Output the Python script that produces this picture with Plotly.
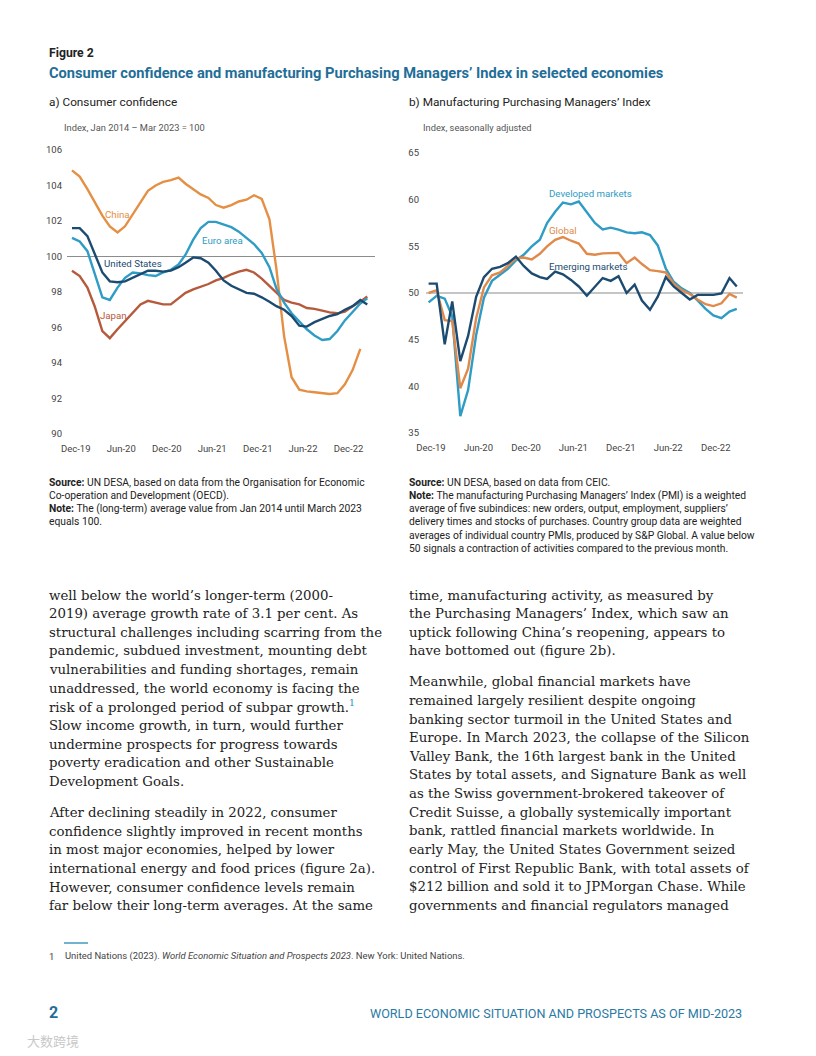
import plotly.graph_objects as go

# the page body adds an 8 px margin; the figure is drawn 8 px smaller and
# all page coordinates below are expressed in the photographed page's pixels
OFF = 8
W, H = 816 - OFF, 1056 - OFF

# ---------------- data ----------------
months = ["2019-12-01", "2020-01-01", "2020-02-01", "2020-03-01", "2020-04-01", "2020-05-01",
          "2020-06-01", "2020-07-01", "2020-08-01", "2020-09-01", "2020-10-01", "2020-11-01",
          "2020-12-01", "2021-01-01", "2021-02-01", "2021-03-01", "2021-04-01", "2021-05-01",
          "2021-06-01", "2021-07-01", "2021-08-01", "2021-09-01", "2021-10-01", "2021-11-01",
          "2021-12-01", "2022-01-01", "2022-02-01", "2022-03-01", "2022-04-01", "2022-05-01",
          "2022-06-01", "2022-07-01", "2022-08-01", "2022-09-01", "2022-10-01", "2022-11-01",
          "2022-12-01", "2023-01-01", "2023-02-01", "2023-03-01"]

china = [104.85, 104.5, 103.8, 103.1, 102.3, 101.7, 101.35, 101.7, 102.4, 103.05,
         103.7, 104.0, 104.2, 104.3, 104.45, 104.1, 103.8, 103.5, 103.3, 102.9,
         102.75, 102.9, 103.1, 103.2, 103.45, 103.25, 102.1, 99.3, 95.5, 93.2,
         92.5, 92.4, 92.35, 92.3, 92.25, 92.3, 92.8, 93.6, 94.8]
euro_area = [101.05, 100.85, 100.3, 99.1, 97.7, 97.55, 98.25, 98.8, 99.1, 99.05,
             98.95, 98.9, 99.1, 99.25, 99.55, 100.1, 100.95, 101.6, 101.95, 101.95,
             101.8, 101.65, 101.4, 101.05, 100.7, 100.2, 99.4, 98.2, 97.4, 96.8,
             96.35, 95.9, 95.55, 95.3, 95.35, 95.8, 96.4, 96.9, 97.35, 97.65]
united_states = [101.6, 101.6, 101.15, 100.2, 99.1, 98.6, 98.55, 98.6, 98.8, 99.0,
                 99.2, 99.2, 99.15, 99.2, 99.4, 99.65, 99.95, 99.9, 99.65, 99.2,
                 98.65, 98.35, 98.15, 97.95, 97.9, 97.7, 97.45, 97.2, 97.0, 96.65,
                 96.1, 96.05, 96.3, 96.5, 96.65, 96.75, 97.0, 97.2, 97.55, 97.3]
japan = [99.2, 98.9, 98.25, 97.2, 95.8, 95.4, 95.9, 96.35, 96.8, 97.3,
         97.5, 97.4, 97.3, 97.3, 97.65, 97.95, 98.15, 98.3, 98.45, 98.65,
         98.8, 99.0, 99.15, 99.25, 99.1, 98.75, 98.35, 97.95, 97.55, 97.4,
         97.3, 97.1, 97.05, 96.95, 96.85, 96.8, 96.9, 97.2, 97.45, 97.75]

developed = [49.0, 49.7, 49.4, 47.5, 36.8, 39.6, 45.5, 49.5, 51.3, 52.0,
             52.6, 53.5, 54.1, 55.0, 55.7, 57.5, 58.7, 59.7, 59.5, 59.8,
             58.7, 57.5, 56.8, 57.0, 56.8, 56.5, 56.4, 56.5, 56.2, 55.1,
             52.6, 51.2, 50.5, 50.0, 49.2, 48.3, 47.6, 47.3, 48.0, 48.3]
global_pmi = [50.0, 50.3, 47.1, 47.0, 39.8, 41.9, 47.3, 50.6, 51.9, 52.2,
              52.9, 53.7, 53.8, 53.6, 54.2, 55.0, 55.7, 56.0, 55.6, 55.3,
              54.2, 54.1, 54.25, 54.25, 54.3, 53.2, 53.8, 53.1, 52.45, 52.35,
              52.2, 51.0, 50.3, 49.9, 49.3, 48.8, 48.6, 48.9, 49.9, 49.5]
emerging = [51.0, 51.0, 44.5, 49.1, 42.7, 45.4, 49.6, 51.7, 52.6, 52.8,
            53.2, 53.9, 52.9, 52.1, 51.7, 51.5, 52.3, 52.0, 51.4, 50.7,
            49.7, 50.7, 51.6, 51.3, 51.8, 50.0, 50.9, 49.2, 48.2, 49.6,
            51.7, 50.7, 50.0, 49.3, 49.8, 49.8, 49.8, 49.95, 51.6, 50.7]

tick_text = ["Dec-19", "Jun-20", "Dec-20", "Jun-21", "Dec-21", "Jun-22", "Dec-22"]
tick_pos_a = ["2019-12-16", "2020-06-16", "2020-12-16", "2021-06-16", "2021-12-16", "2022-06-16", "2022-12-16"]
tick_pos_b = ["2019-12-10", "2020-06-10", "2020-12-10", "2021-06-10", "2021-12-10", "2022-06-10", "2022-12-10"]
yticks_a = [90, 92, 94, 96, 98, 100, 102, 104, 106]
yticks_b = [35, 40, 45, 50, 55, 60, 65]

# ---------------- styles ----------------
ORANGE = "#e58f45"
TEAL = "#2e9cc4"
NAVY = "#1c4b72"
BROWN = "#b65a3c"
TITLE = "#1f6e98"
SANS = "Roboto, 'Liberation Sans', sans-serif"
SERIF = "'DejaVu Serif', serif"


def px(x):
    return (x - OFF) / W


def py(y):
    return 1 - (y - OFF) / H


fig = go.Figure()

lw = 2.4
fig.add_trace(go.Scatter(x=months[:len(china)], y=china, mode="lines", line=dict(color=ORANGE, width=lw),
                         xaxis="x", yaxis="y", name="China"))
fig.add_trace(go.Scatter(x=months, y=japan, mode="lines", line=dict(color=BROWN, width=lw),
                         xaxis="x", yaxis="y", name="Japan"))
fig.add_trace(go.Scatter(x=months, y=euro_area, mode="lines", line=dict(color=TEAL, width=lw),
                         xaxis="x", yaxis="y", name="Euro area"))
fig.add_trace(go.Scatter(x=months, y=united_states, mode="lines", line=dict(color=NAVY, width=lw),
                         xaxis="x", yaxis="y", name="United States"))

fig.add_trace(go.Scatter(x=months, y=developed, mode="lines", line=dict(color=TEAL, width=lw),
                         xaxis="x2", yaxis="y2", name="Developed markets"))
fig.add_trace(go.Scatter(x=months, y=global_pmi, mode="lines", line=dict(color="#e0894a", width=lw),
                         xaxis="x2", yaxis="y2", name="Global"))
fig.add_trace(go.Scatter(x=months, y=emerging, mode="lines", line=dict(color=NAVY, width=lw),
                         xaxis="x2", yaxis="y2", name="Emerging markets"))

tickfont = dict(family=SANS, size=9.5, color="#444")
common_x = dict(type="date", showgrid=False, zeroline=False, showline=False, ticks="",
                tickfont=tickfont, ticktext=tick_text, ticklabelstandoff=7, automargin=False)
common_y = dict(showgrid=False, zeroline=False, showline=False, ticks="", tickfont=tickfont,
                automargin=False)

fig.update_layout(
    width=W, height=H, margin=dict(l=0, r=0, t=0, b=0, pad=0, autoexpand=False),
    paper_bgcolor="white", plot_bgcolor="white", showlegend=False,
    xaxis=dict(common_x, domain=[px(67), px(375)], range=["2019-11-11", "2023-04-01"],
               tickvals=tick_pos_a, anchor="y"),
    yaxis=dict(common_y, domain=[py(434), py(150)], range=[90, 106], tickvals=yticks_a,
               ticklabelstandoff=4, anchor="x"),
    xaxis2=dict(common_x, domain=[px(426), px(743)], range=["2019-11-21", "2023-03-25"],
                tickvals=tick_pos_b, anchor="y2"),
    yaxis2=dict(common_y, domain=[py(433), py(153)], range=[35, 65], tickvals=yticks_b,
                ticklabelstandoff=6, anchor="x2"),
)

# reference lines
fig.add_shape(type="line", xref="x domain", yref="y", x0=0, x1=1, y0=100, y1=100,
              line=dict(color="#8c8c8c", width=1.2), layer="below")
fig.add_shape(type="line", xref="x2 domain", yref="y2", x0=0, x1=1, y0=50, y1=50,
              line=dict(color="#8c8c8c", width=1.2), layer="below")

anns = []


def txt(x, y, text, size, color="#222", family=SANS, anchor="left", yanchor="middle"):
    anns.append(dict(x=px(x), y=py(y), xref="paper", yref="paper", text=text, showarrow=False,
                     xanchor=anchor, yanchor=yanchor, borderpad=0,
                     font=dict(size=size, color=color, family=family)))


# header
txt(48, 53, "<b>Figure 2</b>", 12.2, "#222")
txt(48, 73, "<b>Consumer confidence and manufacturing Purchasing Managers’ Index in selected economies</b>",
    14.65, TITLE)
txt(48, 102, "a) Consumer confidence", 11.8, "#222")
txt(408, 102, "b) Manufacturing Purchasing Managers’ Index", 11.8, "#222")
txt(63, 128, "Index, Jan 2014 – Mar 2023 = 100", 9.3, "#555")
txt(422, 128, "Index, seasonally adjusted", 9.3, "#555")

# series labels
txt(104, 215, "China", 9.7, ORANGE)
txt(201, 241, "Euro area", 9.7, TEAL)
txt(103, 264, "United States", 9.7, NAVY)
txt(99, 315, "Japan", 9.7, BROWN)
txt(548, 193, "Developed markets", 9.7, TEAL)
txt(548, 230, "Global", 9.7, "#e0894a")
txt(548, 266, "Emerging markets", 9.7, NAVY)

# sources / notes
left_notes = [
    "<b>Source:</b> UN DESA, based on data from the Organisation for Economic",
    "Co-operation and Development (OECD).",
    "<b>Note:</b> The (long-term) average value from Jan 2014 until March 2023",
    "equals 100.",
]
right_notes = [
    "<b>Source:</b> UN DESA, based on data from CEIC.",
    "<b>Note:</b> The manufacturing Purchasing Managers’ Index (PMI) is a weighted",
    "average of five subindices: new orders, output, employment, suppliers’",
    "delivery times and stocks of purchases. Country group data are weighted",
    "averages of individual country PMIs, produced by S&P Global. A value below",
    "50 signals a contraction of activities compared to the previous month.",
]
for i, line in enumerate(left_notes):
    txt(48, 482 + 13.1 * i, line, 10.3, "#222")
for i, line in enumerate(right_notes):
    txt(408, 482 + 13.3 * i, line, 10.3, "#222")

# body text
SUP = "<sup><span style='color:#2a8fbf'>1</span></sup>"
left_body = [
    (595, "well below the world’s longer-term (2000-"),
    (613, "2019) average growth rate of 3.1 per cent. As"),
    (632, "structural challenges including scarring from the"),
    (650, "pandemic, subdued investment, mounting debt"),
    (669, "vulnerabilities and funding shortages, remain"),
    (688, "unaddressed, the world economy is facing the"),
    (706, "risk of a prolonged period of subpar growth." + SUP),
    (725, "Slow income growth, in turn, would further"),
    (744, "undermine prospects for progress towards"),
    (762, "poverty eradication and other Sustainable"),
    (781, "Development Goals."),
    (812, "After declining steadily in 2022, consumer"),
    (831, "confidence slightly improved in recent months"),
    (849, "in most major economies, helped by lower"),
    (868, "international energy and food prices (figure 2a)."),
    (887, "However, consumer confidence levels remain"),
    (905, "far below their long-term averages. At the same"),
]
right_body = [
    (595, "time, manufacturing activity, as measured by"),
    (613, "the Purchasing Managers’ Index, which saw an"),
    (632, "uptick following China’s reopening, appears to"),
    (650, "have bottomed out (figure 2b)."),
    (681, "Meanwhile, global financial markets have"),
    (700, "remained largely resilient despite ongoing"),
    (719, "banking sector turmoil in the United States and"),
    (737, "Europe. In March 2023, the collapse of the Silicon"),
    (756, "Valley Bank, the 16th largest bank in the United"),
    (774, "States by total assets, and Signature Bank as well"),
    (793, "as the Swiss government-brokered takeover of"),
    (812, "Credit Suisse, a globally systemically important"),
    (830, "bank, rattled financial markets worldwide. In"),
    (849, "early May, the United States Government seized"),
    (868, "control of First Republic Bank, with total assets of"),
    (886, "$212 billion and sold it to JPMorgan Chase. While"),
    (905, "governments and financial regulators managed"),
]
for y, line in left_body:
    txt(48, y, line, 13.3, "#222", SERIF)
for y, line in right_body:
    txt(408, y, line, 13.3, "#222", SERIF)

# footnote
fig.add_shape(type="line", xref="paper", yref="paper", x0=px(64), x1=px(88), y0=py(943), y1=py(943),
              line=dict(color="#6fb3cf", width=2))
txt(48, 956, "1", 9.45, "#444")
txt(64, 956, "United Nations (2023). <i>World Economic Situation and Prospects 2023</i>. New York: United Nations.",
    9.45, "#444")

# page footer
txt(48, 1012, "<b>2</b>", 16, TITLE)
txt(743, 1013, "WORLD ECONOMIC SITUATION AND PROSPECTS AS OF MID-2023", 12.6, "#2a7aa3", anchor="right")
txt(26, 1040, "大数跨境", 13, "#c8c8c8", "'Noto Sans CJK SC', sans-serif")

fig.update_layout(annotations=anns)
fig.write_html("out.html")
